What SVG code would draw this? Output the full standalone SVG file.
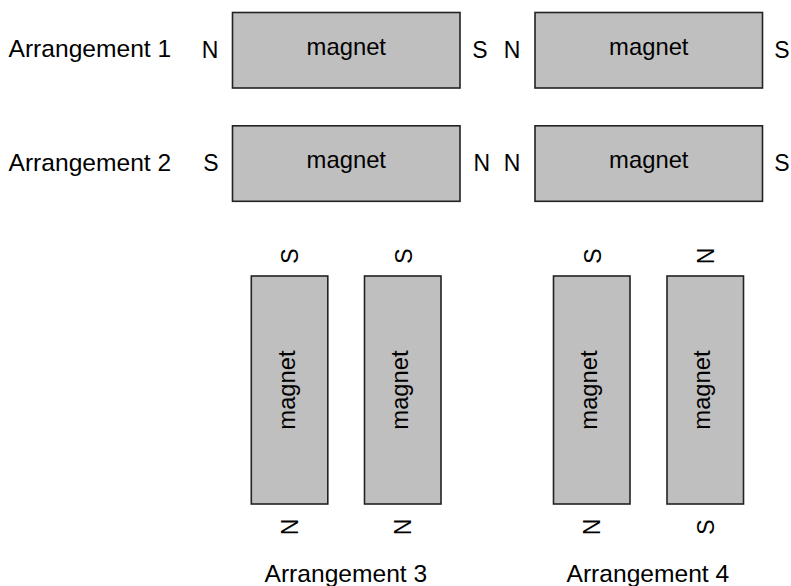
<svg xmlns="http://www.w3.org/2000/svg" width="791" height="586" viewBox="0 0 791 586">
<style>
.mag{fill:#bfbfbf;stroke:#222;stroke-width:1.6}
.t{font-family:"Liberation Sans",Arial,sans-serif;fill:#000;text-anchor:middle}
.mt{font-size:23.8px}
.pole{font-size:23px}
.arr{font-size:24.6px;text-anchor:start}
</style>
<rect width="791" height="586" fill="#fff"/>
<g id="labels">
<text class="t arr" x="8.5" y="57.3">Arrangement 1</text>
<text class="t arr" x="8.5" y="170.6">Arrangement 2</text>
<text class="t arr" x="264.5" y="581.5">Arrangement 3</text>
<text class="t arr" x="566.5" y="581.5">Arrangement 4</text>
</g>
<g id="m1">
<rect class="mag" x="232.5" y="12.5" width="227.5" height="75.5"/>
<text class="t mt" x="346.3" y="55">magnet</text>
<text class="t pole" x="210" y="58">N</text>
<text class="t pole" x="480" y="58">S</text>
</g>
<g id="m2">
<rect class="mag" x="535" y="12.5" width="227.5" height="75.5"/>
<text class="t mt" x="648.8" y="55">magnet</text>
<text class="t pole" x="512" y="58">N</text>
<text class="t pole" x="782" y="58">S</text>
</g>
<g id="m3">
<rect class="mag" x="232.5" y="125.8" width="227.5" height="75.5"/>
<text class="t mt" x="346.3" y="168.3">magnet</text>
<text class="t pole" x="210.8" y="171.3">S</text>
<text class="t pole" x="481.7" y="171.3">N</text>
</g>
<g id="m4">
<rect class="mag" x="535" y="125.8" width="227.5" height="75.5"/>
<text class="t mt" x="648.8" y="168.3">magnet</text>
<text class="t pole" x="512" y="171.3">N</text>
<text class="t pole" x="782" y="171.3">S</text>
</g>
<g id="m5">
<rect class="mag" x="251.3" y="276" width="76.5" height="228"/>
<text class="t mt" transform="translate(294.5,390) rotate(-90)">magnet</text>
<text class="t pole" transform="translate(298.3,256) rotate(-90)">S</text>
<text class="t pole" transform="translate(297.5,527) rotate(-90)">N</text>
</g>
<g id="m6">
<rect class="mag" x="364.5" y="276" width="76.5" height="228"/>
<text class="t mt" transform="translate(407.7,390) rotate(-90)">magnet</text>
<text class="t pole" transform="translate(411.6,256) rotate(-90)">S</text>
<text class="t pole" transform="translate(410.8,527) rotate(-90)">N</text>
</g>
<g id="m7">
<rect class="mag" x="553.5" y="276" width="76.5" height="228"/>
<text class="t mt" transform="translate(596.7,390) rotate(-90)">magnet</text>
<text class="t pole" transform="translate(600.8,256) rotate(-90)">S</text>
<text class="t pole" transform="translate(600,527) rotate(-90)">N</text>
</g>
<g id="m8">
<rect class="mag" x="667" y="276" width="76.5" height="228"/>
<text class="t mt" transform="translate(710.2,390) rotate(-90)">magnet</text>
<text class="t pole" transform="translate(714,256) rotate(-90)">N</text>
<text class="t pole" transform="translate(714.3,527) rotate(-90)">S</text>
</g>
<g id="connectors"></g>
</svg>
